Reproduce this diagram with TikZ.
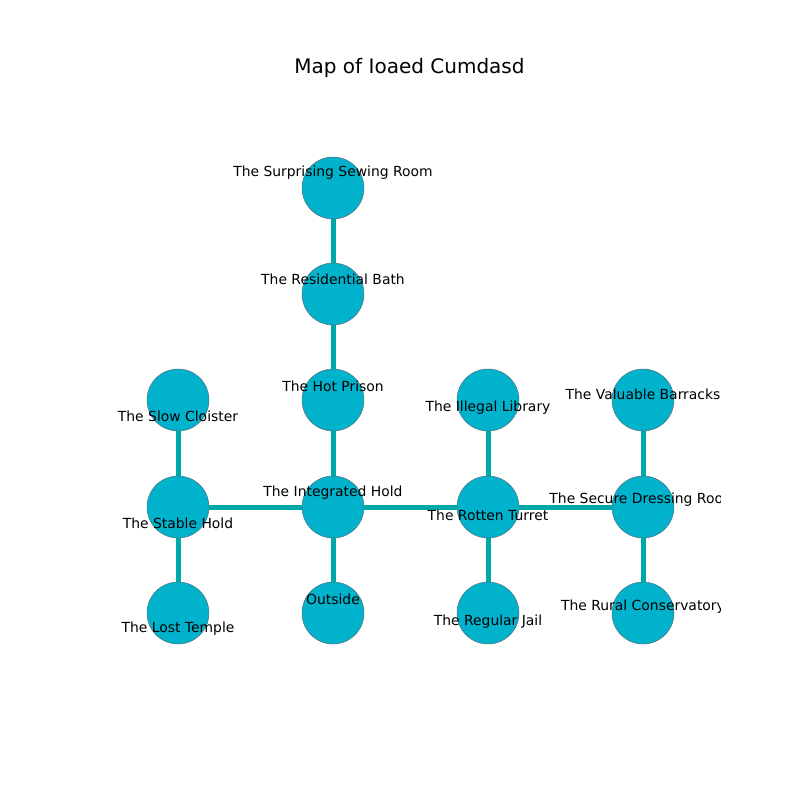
\documentclass[tikz,border=0pt]{standalone}
\usepackage{fontspec}
\setmainfont{DejaVu Sans}
\definecolor{nodefill}{RGB}{0,178,204}
\definecolor{edgecol}{RGB}{0,168,168}
\definecolor{rimcol}{RGB}{90,110,120}
\begin{document}
\begin{tikzpicture}[x=1pt,y=-1pt,
  room/.style={circle,fill=nodefill,draw=rimcol,line width=0.5pt,minimum size=62pt,inner sep=0pt},
  link/.style={draw=edgecol,line width=5pt},
  lbl/.style={font=\fontsize{13.9}{16}\selectfont,inner sep=0pt,anchor=center}]
\useasboundingbox (0,0) rectangle (800,800);
\node[font=\fontsize{20}{24}\selectfont,inner sep=0pt] (title) at (409.5,68) {Map of Ioaed Cumdasd};
% room positions
\coordinate (sew) at (333,188);
\coordinate (bath) at (333,294);
\coordinate (hot) at (333,400);
\coordinate (int) at (333,507);
\coordinate (out) at (333,613);
\coordinate (slow) at (178,400);
\coordinate (stab) at (178,507);
\coordinate (lost) at (178,613);
\coordinate (ill) at (488,400);
\coordinate (rot) at (488,507);
\coordinate (reg) at (488,613);
\coordinate (val) at (643,400);
\coordinate (sec) at (643,507);
\coordinate (rur) at (643,613);
% connectors
\draw[link] (sew) -- (bath);
\draw[link] (bath) -- (hot);
\draw[link] (hot) -- (int);
\draw[link] (int) -- (out);
\draw[link] (slow) -- (stab);
\draw[link] (stab) -- (lost);
\draw[link] (stab) -- (int);
\draw[link] (int) -- (rot);
\draw[link] (ill) -- (rot);
\draw[link] (rot) -- (reg);
\draw[link] (rot) -- (sec);
\draw[link] (val) -- (sec);
\draw[link] (sec) -- (rur);
% circles
\foreach \c in {sew,bath,hot,int,out,slow,stab,lost,ill,rot,reg,val,sec,rur}
  \node[room] (n\c) at (\c) {};
% labels
\begin{scope}
\clip (100,96) rectangle (720,712);
\node[lbl] (lsew) at (333,173) {The Surprising Sewing Room};
\node[lbl] (lbath) at (333,279) {The Residential Bath};
\node[lbl] (lhot) at (333,386) {The Hot Prison};
\node[lbl] (lint) at (333,493) {The Integrated Hold};
\node[lbl] (lout) at (333,599) {Outside};
\node[lbl] (lslow) at (178,416) {The Slow Cloister};
\node[lbl] (lstab) at (178,523) {The Stable Hold};
\node[lbl] (llost) at (178,629) {The Lost Temple};
\node[lbl] (lill) at (488,408) {The Illegal Library};
\node[lbl] (lrot) at (488,515) {The Rotten Turret};
\node[lbl] (lreg) at (488,622) {The Regular Jail};
\node[lbl] (lval) at (643,394) {The Valuable Barracks};
\node[lbl] (lsec) at (643,500) {The Secure Dressing Room};
\node[lbl] (lrur) at (643,607) {The Rural Conservatory};
\end{scope}
\end{tikzpicture}
\end{document}
